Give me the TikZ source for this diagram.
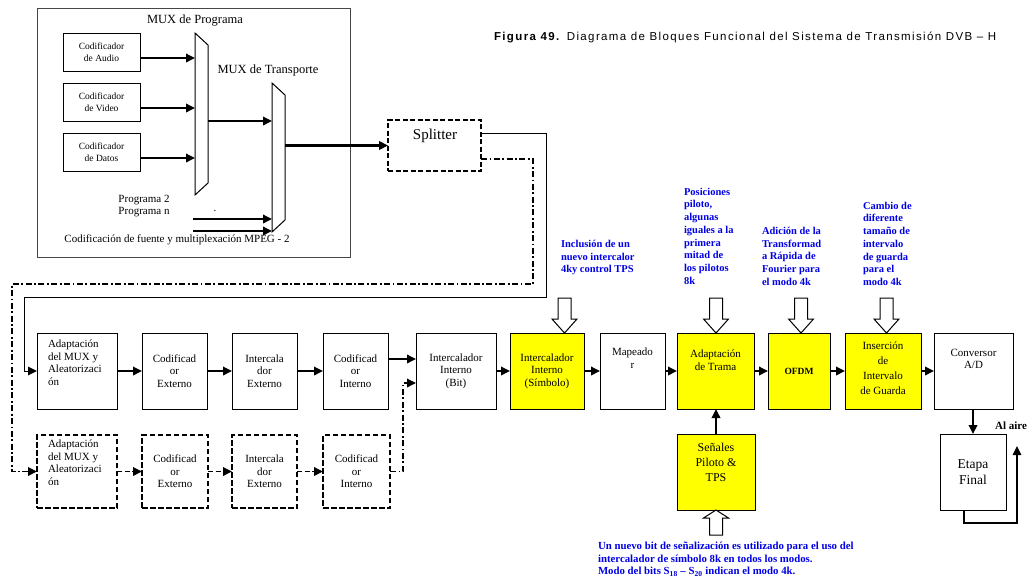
\documentclass[tikz,border=0pt]{standalone}
\usepackage{fontspec}
\setmainfont{Liberation Serif}
\newfontfamily\ttlfont[LetterSpace=12]{Liberation Sans}
\usetikzlibrary{arrows.meta}

\definecolor{blkyellow}{RGB}{255,255,0}
\definecolor{noteblue}{RGB}{0,0,230}
\definecolor{framegray}{RGB}{70,70,70}

\newcommand\bxfont{\fontsize{11}{12.6}\selectfont}
\newcommand\cdfont{\fontsize{9.5}{12.5}\selectfont}
\newcommand\mxfont{\fontsize{12.5}{14}\selectfont}
\newcommand\srcfont{\fontsize{11}{12}\selectfont}
\newcommand\notefont{\fontsize{10.5}{12.7}\selectfont\bfseries}

% hollow block arrow pointing down onto a box, tip at #1
\newcommand\hollowdown[1]{\draw[hollow] (#1) -- ++(-12.5,-14) -- ++(6,0) -- ++(0,-21) -- ++(13,0) -- ++(0,21) -- ++(6,0) -- cycle;}
% hollow block arrow pointing up into a box, tip at #1
\newcommand\hollowup[1]{\draw[hollow] (#1) -- ++(-12.5,8) -- ++(6,0) -- ++(0,17) -- ++(13,0) -- ++(0,-17) -- ++(6,0) -- cycle;}

\begin{document}
\begin{tikzpicture}[x=1pt,y=-1pt,
  every node/.style={inner sep=0pt,outer sep=0pt},
  tip/.style={-{Triangle[length=9pt,width=8.5pt]}},
  arr/.style={tip,line width=1.8pt},
  blk/.style={draw,line width=1pt,minimum height=76pt,align=center,font=\bxfont},
  ylw/.style={blk,fill=blkyellow},
  dblk/.style={blk,line width=1.8pt,dash pattern=on 5.5pt off 2.5pt,minimum height=73pt},
  coder/.style={draw,line width=1pt,minimum width=77pt,minimum height=38pt,align=center,font=\cdfont},
  lbl/.style={align=center,font=\bxfont},
  note/.style={align=left,anchor=north west,font=\notefont,text=noteblue},
  dasharr/.style={arr,dash pattern=on 5pt off 2.5pt},
  dotdash/.style={line width=1.8pt,dash pattern=on 6pt off 2.5pt on 1.8pt off 2.5pt},
  thinline/.style={line width=1pt},
  hollow/.style={draw,line width=1pt,fill=white,line join=miter},
]
\useasboundingbox (0,0) rectangle (1032,584);
\fill[white] (0,0) rectangle (1032,584);

% ---------- title ----------
\node[anchor=west,font={\ttlfont\fontsize{11.5}{13}\selectfont}] (ttl) at (494,37)
  {\textbf{Figura 49.} Diagrama de Bloques Funcional del Sistema de Transmisión DVB – H};

% ---------- source coding and MPEG-2 multiplexing ----------
\node[draw=framegray,line width=1pt,minimum width=313pt,minimum height=249pt] (srcfrm) at (193.5,132.5) {};
\node[font=\mxfont] (mplbl) at (195,21) {MUX de Programa};
\node[font=\mxfont] (mtlbl) at (268,70) {MUX de Transporte};

\node[coder] (ca) at (101.5,52) {Codificador\\de Audio};
\node[coder] (cv) at (101.5,102) {Codificador\\de Video};
\node[coder] (cd) at (101.5,152) {Codificador\\de Datos};

% program and transport multiplexers
\draw[thinline] (195,33) -- (208,45) -- (208,183) -- (195,195) -- cycle;
\draw[thinline] (272,83) -- (285,95) -- (285,220) -- (272,232) -- cycle;
\coordinate (mpin) at (195,0);
\coordinate (mtin) at (272,0);
\coordinate (mpout) at (208,121);
\coordinate (mtout) at (285,145.5);

\coordinate (caout) at ([yshift=-6pt]ca.east);
\coordinate (cvout) at ([yshift=-6pt]cv.east);
\coordinate (cdout) at ([yshift=-6pt]cd.east);
\draw[arr] (caout) -- (caout -| mpin);
\draw[arr] (cvout) -- (cvout -| mpin);
\draw[arr] (cdout) -- (cdout -| mpin);
\draw[arr] (mpout) -- (mpout -| mtin);

\node[font=\srcfont,align=center] (prg) at (144,206) {Programa 2\\Programa n};
\node[font=\srcfont] (prgdot) at (215,211) {.};
\coordinate (p2s) at (193,219);
\coordinate (pns) at (193,231);
\draw[arr] (p2s) -- (p2s -| mtin);
\draw[arr] (pns) -- (pns -| mtin);
\node[font=\srcfont] (srclbl) at (177,240) {Codificación de fuente y multiplexación MPEG - 2};

% ---------- splitter ----------
\node[draw,line width=1.8pt,dash pattern=on 5pt off 2.5pt,minimum width=93pt,minimum height=51pt] (spl) at (434.5,145.5) {};
\node[font=\fontsize{15}{16}\selectfont] (spltxt) at (435,136) {Splitter};
\draw[arr,line width=3pt] (mtout) -- (spl.west);

% ---------- main transmission chain ----------
\node[blk,minimum width=80pt] (b1) at (77,371) {};
\node[lbl,align=left,anchor=north west] (b1t) at (48,340) {Adaptación\\del MUX y\\Aleatorizaci\\ón};
\node[blk,minimum width=65pt] (b2) at (174.5,371) {Codificad\\or\\Externo};
\node[blk,minimum width=65pt] (b3) at (264.5,371) {Intercala\\dor\\Externo};
\node[blk,minimum width=65pt] (b4) at (355.5,371) {Codificad\\or\\Interno};
\node[blk,minimum width=80pt] (b5) at (456,371) {Intercalador\\Interno\\(Bit)};
\node[ylw,minimum width=74pt] (b6) at (547,371) {Intercalador\\Interno\\(Símbolo)};
\node[blk,minimum width=65pt] (b7) at (632.5,371) {};
\node[lbl,anchor=north] (b7t) at (632.5,348) {Mapeado\\r};
\node[ylw,minimum width=77pt] (b8) at (715.5,371) {};
\node[lbl,anchor=north] (b8t) at (715.5,350) {Adaptación\\de Trama};
\node[ylw,minimum width=62pt,font=\fontsize{9.5}{11}\selectfont\bfseries] (b9) at (799,371) {OFDM};
\node[ylw,minimum width=76pt] (b10) at (883,371) {};
\node[lbl,font=\fontsize{11}{15}\selectfont] (b10t) at (883,368.5) {Inserción\\de\\Intervalo\\de Guarda};
\node[blk,minimum width=79pt] (b11) at (973.5,371) {};
\node[lbl,anchor=north] (b11t) at (973.5,349) {Conversor\\A/D};

\foreach \a/\b in {b1/b2,b2/b3,b3/b4,b5/b6,b6/b7,b7/b8,b8/b9,b9/b10,b10/b11}
  \draw[arr] (\a.east) -- (\b.west);
\draw[arr] ([yshift=12pt]b4.east) -- ([yshift=12pt]b5.west);

% ---------- hierarchical (dashed) chain ----------
\node[dblk,minimum width=80pt] (d1) at (77,471.5) {};
\node[lbl,align=left,anchor=north west] (d1t) at (48,440) {Adaptación\\del MUX y\\Aleatorizaci\\ón};
\node[dblk,minimum width=66pt] (d2) at (175,471.5) {Codificad\\or\\Externo};
\node[dblk,minimum width=65pt] (d3) at (264.5,471.5) {Intercala\\dor\\Externo};
\node[dblk,minimum width=67pt] (d4) at (356.5,471.5) {Codificad\\or\\Interno};
\foreach \a/\b in {d1/d2,d2/d3,d3/d4}
  \draw[dasharr] (\a.east) -- (\b.west);
\draw[dotdash,tip] (d4.east) -- ++(13,0) |- ([yshift=-12pt]b5.west);

% ---------- splitter outputs ----------
\coordinate (sploA) at ([yshift=12.5pt]spl.east);
\coordinate (rA) at (546,297);
\coordinate (lA) at (24,297);
\draw[thinline,tip] (sploA) -| (rA) -- (lA) |- (b1.west);
\coordinate (sploB) at ([yshift=-13.5pt]spl.east);
\coordinate (rB) at (533,284);
\coordinate (lB) at (12,284);
\draw[dotdash,tip] (sploB) -| (rB) -- (lB) |- (d1.west);

% ---------- DVB-H additions ----------
\node[note] (n1) at (561,240) {Inclusión de un\\nuevo intercalor\\4ky control TPS};
\node[note] (n2) at (684,188) {Posiciones\\piloto,\\algunas\\iguales a la\\primera\\mitad de\\los pilotos\\8k};
\node[note] (n3) at (762,227) {Adición de la\\Transformad\\a Rápida de\\Fourier para\\el modo 4k};
\node[note] (n4) at (863,202) {Cambio de\\diferente\\tamaño de\\intervalo\\de guarda\\para el\\modo 4k};

\coordinate (h6) at ([xshift=17.5pt]b6.north);
\coordinate (h8) at ([xshift=0.5pt]b8.north);
\coordinate (h9) at ([xshift=2pt]b9.north);
\coordinate (h10) at ([xshift=3.5pt]b10.north);
\hollowdown{h6}
\hollowdown{h8}
\hollowdown{h9}
\hollowdown{h10}

% pilot and TPS signals
\node[ylw,minimum width=78pt] (sen) at (716,472) {};
\node[lbl,font=\fontsize{12}{15}\selectfont] (sent) at (716,462) {Señales\\Piloto \&\\TPS};
\draw[arr] (sen.north) -- (sen.north |- b8.south);
\coordinate (senin) at (sen.south);
\hollowup{senin}
\node[note,font=\fontsize{10.8}{12.5}\selectfont\bfseries] (n5) at (598,542)
  {Un nuevo bit de señalización es utilizado para el uso del\\intercalador de símbolo 8k en todos los modos.\\Modo del bits S\textsubscript{18} – S\textsubscript{20} indican el modo 4k.};

% ---------- output stage ----------
\node[blk,minimum width=66pt,font=\fontsize{13.5}{16}\selectfont] (etp) at (973,472) {Etapa\\Final};
\draw[arr] (b11.south -| etp.north) -- (etp.north);
\coordinate (lp) at ([xshift=-9pt]etp.south);
\coordinate (air) at (1017,446);
\draw[line width=1.5pt,tip] (lp) -- ++(0,13) -| (air);
\node[font=\fontsize{11}{12}\selectfont\bfseries] (airlbl) at (1011,426) {Al aire};
\end{tikzpicture}
\end{document}
